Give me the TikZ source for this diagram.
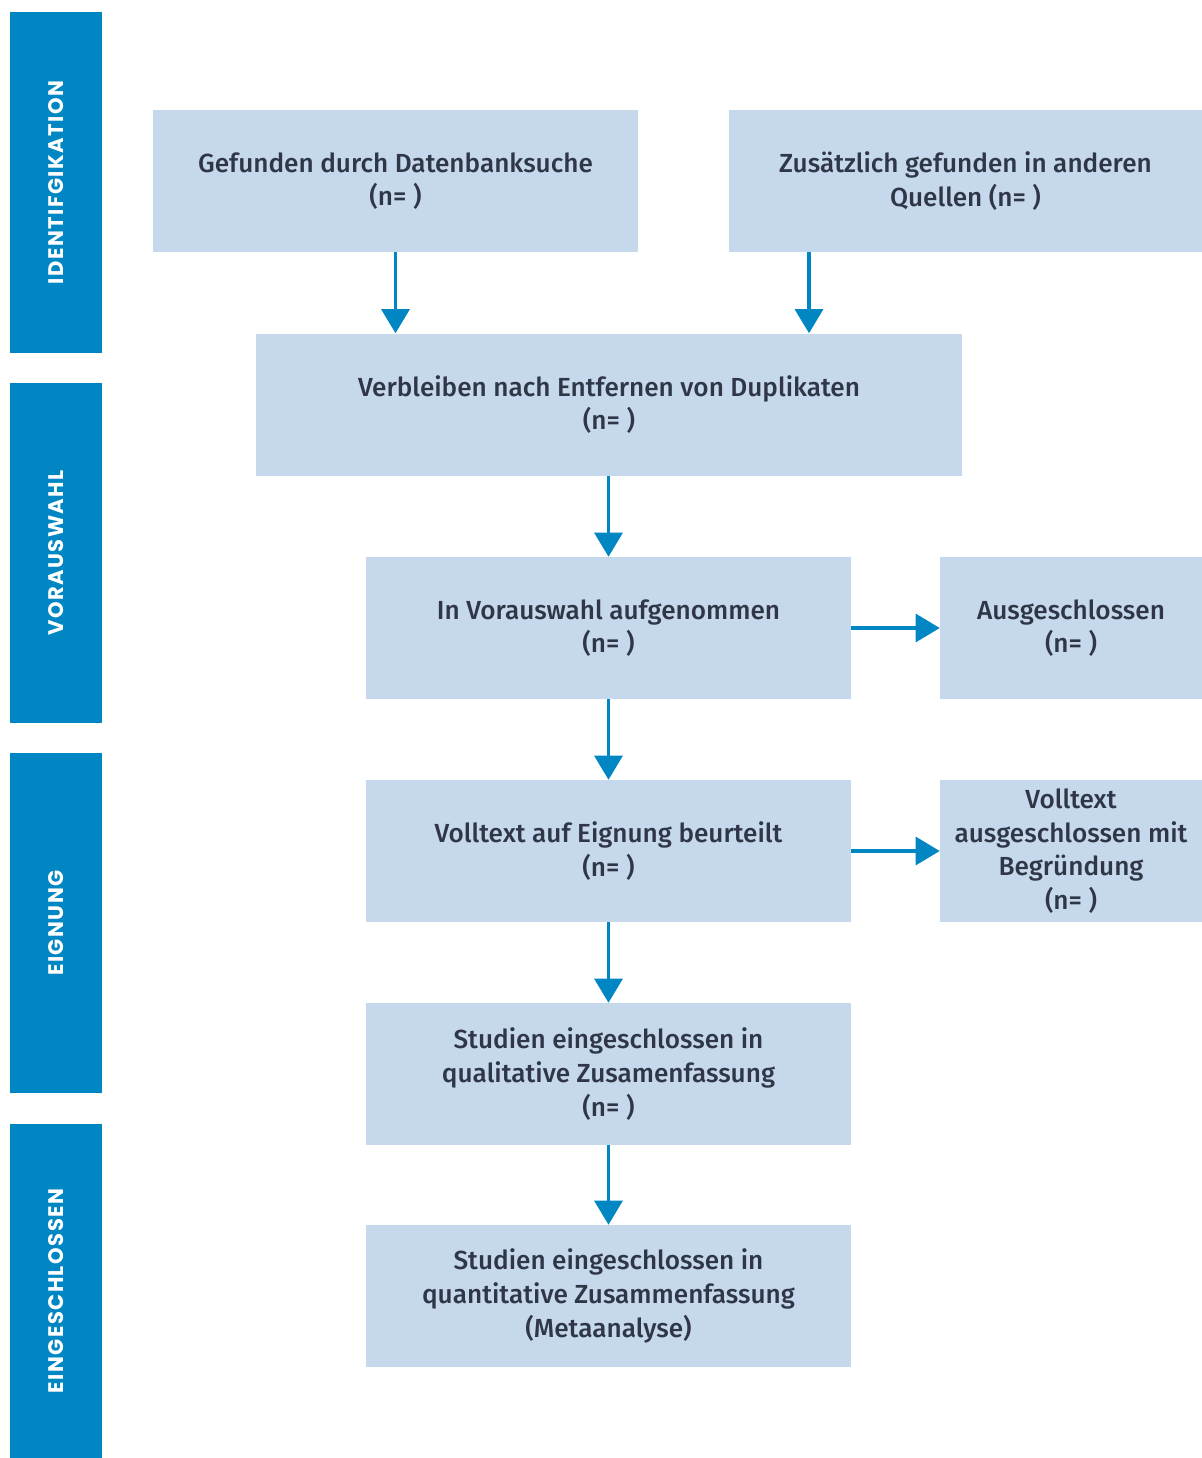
\documentclass[tikz,border=0pt]{standalone}
\usepackage{fontspec}
\setmainfont{Fira Sans}[UprightFont=* Medium]
\newfontfamily\barfont{Poppins}[LetterSpace=7]
\usetikzlibrary{arrows.meta}
\definecolor{barblue}{HTML}{0087C3}
\definecolor{boxblue}{HTML}{C6D8EB}
\definecolor{boxtext}{HTML}{2E3648}
\tikzset{
  box/.style={fill=boxblue, text=boxtext, minimum height=3.55cm, align=center,
    font=\fontsize{18.6}{24}\selectfont, inner sep=0pt},
  phase/.style={fill=barblue, text=white, rotate=90, minimum height=2.3cm,
    font=\barfont\bfseries\fontsize{15}{18}\selectfont, inner sep=0pt},
  arr/.style={barblue, line width=2.2pt, -{Triangle[width=0.7cm,length=0.6cm]}}
}
\begin{document}
\begin{tikzpicture}
\useasboundingbox (0,0) rectangle (30.05,-36.45);

% phases
\node[phase, minimum width=8.525cm] (ident) at (1.4,-4.5625) {IDENTIFGIKATION};
\node[phase, minimum width=8.5cm] (vorw) at (1.4,-13.825) {VORAUSWAHL};
\node[phase, minimum width=8.5cm] (eign) at (1.4,-23.075) {EIGNUNG};
\node[phase, minimum width=8.35cm] (eing) at (1.4,-32.275) {EINGESCHLOSSEN};

% boxes
\node[box, minimum width=12.125cm] (db) at (9.8875,-4.525) {Gefunden durch Datenbanksuche\\(n= )};
\node[box, minimum width=11.825cm] (other) at (24.1375,-4.525) {Zusätzlich gefunden in anderen\\Quellen (n= )};
\node[box, minimum width=17.65cm] (dup) at (15.225,-10.1125) {Verbleiben nach Entfernen von Duplikaten\\(n= )};
\node[box, minimum width=12.125cm] (pre) at (15.2125,-15.7) {In Vorauswahl aufgenommen\\(n= )};
\node[box, minimum width=6.55cm] (excl) at (26.775,-15.7) {Ausgeschlossen\\(n= )};
\node[box, minimum width=12.125cm] (full) at (15.2125,-21.275) {Volltext auf Eignung beurteilt\\(n= )};
\node[box, minimum width=6.55cm] (fexcl) at (26.775,-21.275) {Volltext\\ausgeschlossen mit\\Begründung\\(n= )};
\node[box, minimum width=12.125cm] (qual) at (15.2125,-26.85) {Studien eingeschlossen in\\qualitative Zusamenfassung\\(n= )};
\node[box, minimum width=12.125cm] (quant) at (15.2125,-32.4) {Studien eingeschlossen in\\quantitative Zusammenfassung\\(Metaanalyse)};

% arrows
\coordinate (dupin) at ([xshift=5cm]dup.north);
\draw[arr] (db.south) -- (db.south |- dup.north);
\draw[arr] (other.south -| dupin) -- (dupin);
\draw[arr] (dup.south -| pre.north) -- (pre.north);
\draw[arr] (pre.east) -- (excl.west);
\draw[arr] (pre.south) -- (full.north);
\draw[arr] (full.east) -- (fexcl.west);
\draw[arr] (full.south) -- (qual.north);
\draw[arr] (qual.south) -- (quant.north);
\end{tikzpicture}
\end{document}
